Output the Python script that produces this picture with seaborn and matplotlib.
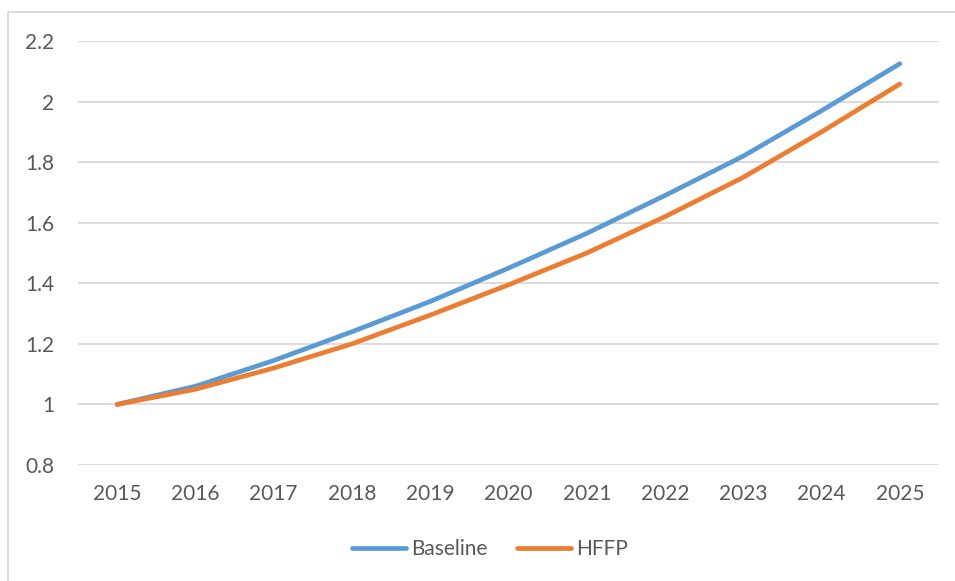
import matplotlib
matplotlib.use("Agg")
import matplotlib.pyplot as plt
import seaborn as sns
import pandas as pd
from matplotlib.patches import Rectangle
from matplotlib.lines import Line2D

years = [2015, 2016, 2017, 2018, 2019, 2020, 2021, 2022, 2023, 2024, 2025]
baseline = [1.00, 1.06, 1.145, 1.24, 1.34, 1.45, 1.565, 1.69, 1.82, 1.97, 2.125]
hffp = [1.00, 1.05, 1.12, 1.20, 1.295, 1.395, 1.50, 1.62, 1.75, 1.90, 2.058]
series_names = ["Baseline", "HFFP"]
y_ticks = [0.8, 1.0, 1.2, 1.4, 1.6, 1.8, 2.0, 2.2]
y_tick_labels = ["0.8", "1", "1.2", "1.4", "1.6", "1.8", "2", "2.2"]

df = pd.DataFrame({
    "year": years * 2,
    "value": baseline + hffp,
    "series": [series_names[0]] * len(years) + [series_names[1]] * len(years),
})

sns.set_theme(style="white")
plt.rcParams["font.family"] = ["Lato", "DejaVu Sans"]

W, H = 955, 581
fig = plt.figure(figsize=(W / 100, H / 100), dpi=100)
ax = fig.add_axes([78 / W, 1 - 465 / H, (939 - 78) / W, (465 - 41) / H])

text_color = "#595959"
grid_color = "#D9D9D9"
palette = {"Baseline": "#5B9BD5", "HFFP": "#ED7D31"}
lw = 3.4

sns.lineplot(data=df, x="year", y="value", hue="series", palette=palette,
             linewidth=lw, ax=ax, legend=False, solid_capstyle="round")

ax.set_xlim(years[0] - 0.5, years[-1] + 0.5)
ax.set_ylim(0.8, 2.2)
ax.set_yticks(y_ticks)
ax.set_yticklabels(y_tick_labels)
ax.set_xticks(years)
ax.set_xticklabels([str(y) for y in years])
ax.set_xlabel("")
ax.set_ylabel("")
for y in y_ticks:
    ax.axhline(y, color=grid_color, linewidth=1.3, zorder=0)
for s in ax.spines.values():
    s.set_visible(False)
ax.tick_params(axis="both", length=0, labelsize=15, colors=text_color)
ax.tick_params(axis="y", pad=17)
ax.tick_params(axis="x", pad=14)

handles = [Line2D([0], [0], color=palette[n], linewidth=lw, solid_capstyle="round") for n in series_names]
leg = fig.legend(handles, series_names, loc="center", bbox_to_anchor=(490 / W, 1 - 549 / H),
                 ncol=2, frameon=False, fontsize=15, handlelength=2.6, handletextpad=0.25,
                 columnspacing=1.4)
for t in leg.get_texts():
    t.set_color(text_color)

fig.patches.append(Rectangle((8 / W, -0.05), 1.2, 1 - 12 / H + 0.05, transform=fig.transFigure,
                             fill=False, edgecolor=grid_color, linewidth=1.3))

fig.savefig("out.png", dpi=100)
